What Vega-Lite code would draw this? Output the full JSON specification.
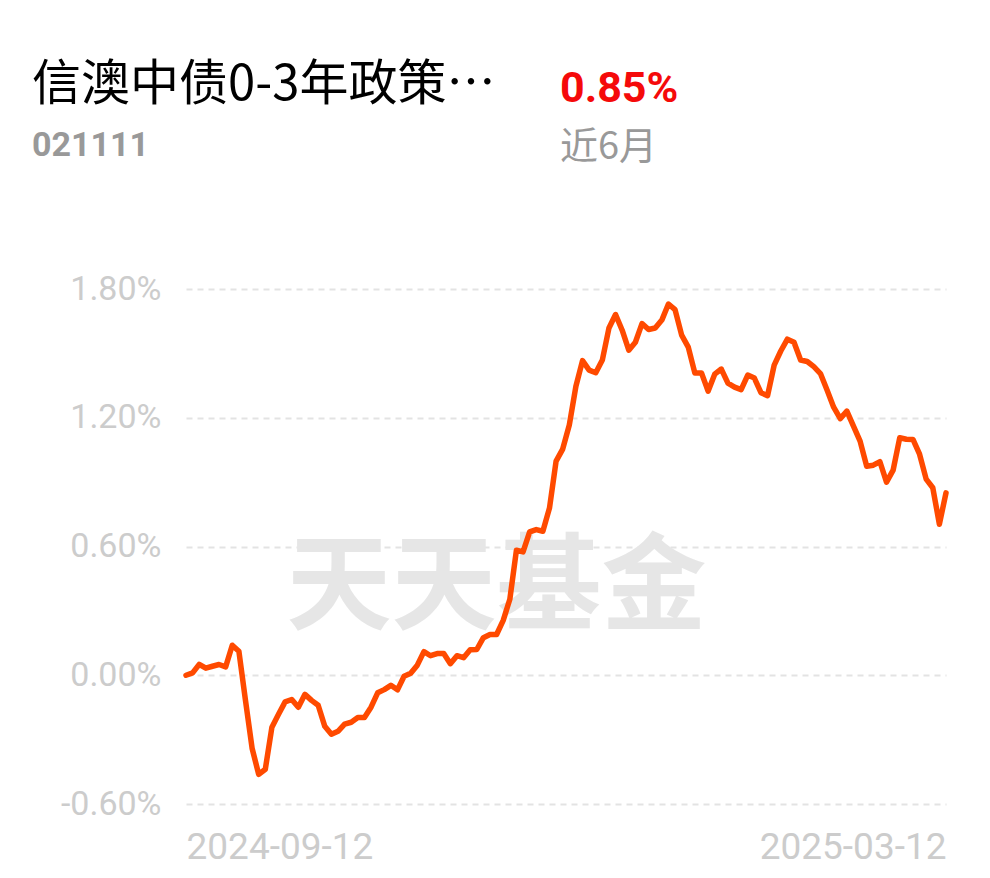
{
  "$schema": "https://vega.github.io/schema/vega-lite/v6.json",
  "background": "white",
  "padding": {"left": 32, "top": 60, "right": 10, "bottom": 12},
  "config": {"view": {"stroke": null}, "font": "Roboto"},
  "spacing": 103,
  "vconcat": [
    {
      "spacing": 0,
      "hconcat": [
        {
          "width": 374,
          "height": 1,
          "data": {"values": [{}]},
          "mark": {"type": "point", "opacity": 0},
          "title": {
            "text": "信澳中债0-3年政策…",
            "subtitle": "021111",
            "anchor": "start",
            "offset": 0,
            "dx": -154,
            "font": "Noto Sans CJK SC",
            "fontSize": 49,
            "fontWeight": "normal",
            "color": "#000000",
            "subtitleFont": "Roboto",
            "subtitleFontSize": 34,
            "subtitleFontWeight": "bold",
            "subtitleColor": "#999999",
            "subtitlePadding": 19
          }
        },
        {
          "width": 386,
          "height": 1,
          "data": {"values": [{}]},
          "mark": {"type": "point", "opacity": 0},
          "title": {
            "text": "0.85%",
            "subtitle": "近6月",
            "anchor": "start",
            "offset": -4,
            "font": "Roboto",
            "fontSize": 43,
            "fontWeight": "bold",
            "color": "#f50a0a",
            "subtitleFont": "Noto Sans CJK SC",
            "subtitleFontSize": 38,
            "subtitleFontWeight": "normal",
            "subtitleColor": "#999999",
            "subtitlePadding": 18
          }
        }
      ]
    },
    {
      "width": 760,
      "height": 515,
      "data": {
        "values": [
          {"date": "2024-09-12", "v": 0.000},
          {"date": "2024-09-13", "v": 0.011},
          {"date": "2024-09-18", "v": 0.051},
          {"date": "2024-09-19", "v": 0.033},
          {"date": "2024-09-20", "v": 0.042},
          {"date": "2024-09-23", "v": 0.050},
          {"date": "2024-09-24", "v": 0.039},
          {"date": "2024-09-25", "v": 0.140},
          {"date": "2024-09-26", "v": 0.112},
          {"date": "2024-09-27", "v": -0.117},
          {"date": "2024-09-30", "v": -0.340},
          {"date": "2024-10-08", "v": -0.462},
          {"date": "2024-10-09", "v": -0.438},
          {"date": "2024-10-10", "v": -0.242},
          {"date": "2024-10-11", "v": -0.182},
          {"date": "2024-10-14", "v": -0.124},
          {"date": "2024-10-15", "v": -0.113},
          {"date": "2024-10-16", "v": -0.149},
          {"date": "2024-10-17", "v": -0.089},
          {"date": "2024-10-18", "v": -0.117},
          {"date": "2024-10-21", "v": -0.140},
          {"date": "2024-10-22", "v": -0.238},
          {"date": "2024-10-23", "v": -0.275},
          {"date": "2024-10-24", "v": -0.261},
          {"date": "2024-10-25", "v": -0.228},
          {"date": "2024-10-28", "v": -0.219},
          {"date": "2024-10-29", "v": -0.197},
          {"date": "2024-10-30", "v": -0.197},
          {"date": "2024-10-31", "v": -0.149},
          {"date": "2024-11-01", "v": -0.082},
          {"date": "2024-11-04", "v": -0.067},
          {"date": "2024-11-05", "v": -0.047},
          {"date": "2024-11-06", "v": -0.068},
          {"date": "2024-11-07", "v": -0.005},
          {"date": "2024-11-08", "v": 0.009},
          {"date": "2024-11-11", "v": 0.047},
          {"date": "2024-11-12", "v": 0.110},
          {"date": "2024-11-13", "v": 0.091},
          {"date": "2024-11-14", "v": 0.101},
          {"date": "2024-11-15", "v": 0.101},
          {"date": "2024-11-18", "v": 0.054},
          {"date": "2024-11-19", "v": 0.091},
          {"date": "2024-11-20", "v": 0.082},
          {"date": "2024-11-21", "v": 0.119},
          {"date": "2024-11-22", "v": 0.120},
          {"date": "2024-11-25", "v": 0.175},
          {"date": "2024-11-26", "v": 0.190},
          {"date": "2024-11-27", "v": 0.190},
          {"date": "2024-11-28", "v": 0.256},
          {"date": "2024-11-29", "v": 0.354},
          {"date": "2024-12-02", "v": 0.583},
          {"date": "2024-12-03", "v": 0.575},
          {"date": "2024-12-04", "v": 0.668},
          {"date": "2024-12-05", "v": 0.679},
          {"date": "2024-12-06", "v": 0.671},
          {"date": "2024-12-09", "v": 0.779},
          {"date": "2024-12-10", "v": 0.998},
          {"date": "2024-12-11", "v": 1.054},
          {"date": "2024-12-12", "v": 1.166},
          {"date": "2024-12-13", "v": 1.347},
          {"date": "2024-12-16", "v": 1.466},
          {"date": "2024-12-17", "v": 1.422},
          {"date": "2024-12-18", "v": 1.410},
          {"date": "2024-12-19", "v": 1.469},
          {"date": "2024-12-20", "v": 1.618},
          {"date": "2024-12-23", "v": 1.681},
          {"date": "2024-12-24", "v": 1.608},
          {"date": "2024-12-25", "v": 1.515},
          {"date": "2024-12-26", "v": 1.552},
          {"date": "2024-12-27", "v": 1.639},
          {"date": "2024-12-30", "v": 1.611},
          {"date": "2024-12-31", "v": 1.618},
          {"date": "2025-01-02", "v": 1.655},
          {"date": "2025-01-03", "v": 1.730},
          {"date": "2025-01-06", "v": 1.704},
          {"date": "2025-01-07", "v": 1.585},
          {"date": "2025-01-08", "v": 1.529},
          {"date": "2025-01-09", "v": 1.408},
          {"date": "2025-01-10", "v": 1.409},
          {"date": "2025-01-13", "v": 1.324},
          {"date": "2025-01-14", "v": 1.403},
          {"date": "2025-01-15", "v": 1.427},
          {"date": "2025-01-16", "v": 1.361},
          {"date": "2025-01-17", "v": 1.343},
          {"date": "2025-01-20", "v": 1.331},
          {"date": "2025-01-21", "v": 1.399},
          {"date": "2025-01-22", "v": 1.385},
          {"date": "2025-01-23", "v": 1.317},
          {"date": "2025-01-24", "v": 1.303},
          {"date": "2025-01-27", "v": 1.445},
          {"date": "2025-02-05", "v": 1.511},
          {"date": "2025-02-06", "v": 1.566},
          {"date": "2025-02-07", "v": 1.552},
          {"date": "2025-02-10", "v": 1.469},
          {"date": "2025-02-11", "v": 1.462},
          {"date": "2025-02-12", "v": 1.438},
          {"date": "2025-02-13", "v": 1.406},
          {"date": "2025-02-14", "v": 1.329},
          {"date": "2025-02-17", "v": 1.249},
          {"date": "2025-02-18", "v": 1.196},
          {"date": "2025-02-19", "v": 1.231},
          {"date": "2025-02-20", "v": 1.161},
          {"date": "2025-02-21", "v": 1.091},
          {"date": "2025-02-24", "v": 0.974},
          {"date": "2025-02-25", "v": 0.979},
          {"date": "2025-02-26", "v": 0.995},
          {"date": "2025-02-27", "v": 0.900},
          {"date": "2025-02-28", "v": 0.956},
          {"date": "2025-03-03", "v": 1.107},
          {"date": "2025-03-04", "v": 1.100},
          {"date": "2025-03-05", "v": 1.099},
          {"date": "2025-03-06", "v": 1.030},
          {"date": "2025-03-07", "v": 0.914},
          {"date": "2025-03-10", "v": 0.874},
          {"date": "2025-03-11", "v": 0.704},
          {"date": "2025-03-12", "v": 0.850}
        ]
      },
      "encoding": {
        "x": {
          "field": "date",
          "type": "ordinal",
          "scale": {"type": "point", "padding": 0},
          "axis": {
            "values": ["2024-09-12", "2025-03-12"],
            "title": null,
            "labelAngle": 0,
            "domain": false,
            "ticks": false,
            "grid": false,
            "labelFont": "Roboto",
            "labelFontSize": 37,
            "labelColor": "#cccccc",
            "labelPadding": 25,
            "labelLimit": 400,
            "labelOverlap": false,
            "labelBound": false,
            "labelAlign": {"condition": {"test": "datum.value == '2024-09-12'", "value": "left"}, "value": "right"}
          }
        },
        "y": {
          "field": "v",
          "type": "quantitative",
          "scale": {"domain": [-0.6, 1.8], "nice": false, "zero": false},
          "axis": {
            "values": [-0.6, 0, 0.6, 1.2, 1.8],
            "labelExpr": "(datum.value < 0 ? '-' : '') + format(abs(datum.value), '.2f') + '%'",
            "title": null,
            "domain": false,
            "ticks": false,
            "grid": true,
            "gridDash": [6, 5],
            "gridColor": "#e3e3e3",
            "gridWidth": 2,
            "labelFont": "Roboto",
            "labelFontSize": 34,
            "labelColor": "#cccccc",
            "labelPadding": 25,
            "minExtent": 154
          }
        }
      },
      "layer": [
        {
          "data": {"values": [{"date": "2024-11-27", "v": 0.40, "wm": "天天基金"}]},
          "mark": {"type": "text", "font": "Noto Sans CJK SC", "fontWeight": "bold", "fontSize": 105, "color": "#e6e6e6", "align": "center", "baseline": "middle"},
          "encoding": {"text": {"field": "wm"}}
        },
        {
          "mark": {"type": "line", "color": "#ff4a00", "strokeWidth": 5.5, "strokeJoin": "round", "strokeCap": "round"}
        }
      ]
    }
  ]
}
